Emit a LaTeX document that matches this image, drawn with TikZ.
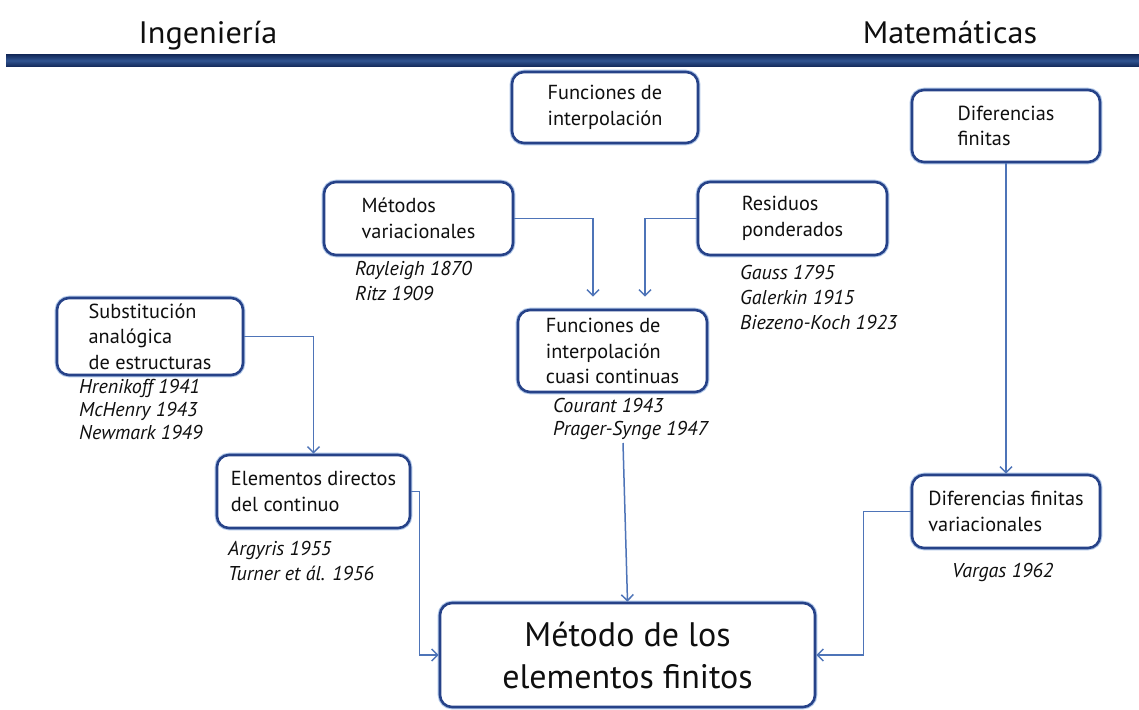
\documentclass[tikz,border=0pt]{standalone}
\usepackage{fontspec}
\usepackage{graphicx}
\setmainfont{PT Sans}
\usetikzlibrary{arrows.meta}
\definecolor{boxblue}{RGB}{38,66,136}
\definecolor{glow}{RGB}{175,198,232}
\definecolor{linkblue}{RGB}{78,116,184}
\definecolor{ink}{RGB}{15,15,15}
\definecolor{barA}{RGB}{22,45,95}
\definecolor{barB}{RGB}{48,84,145}
\begin{document}
\begin{tikzpicture}[x=1pt,y=-1pt,
  box/.style={draw=boxblue, line width=2.6pt, rounded corners=12pt, fill=white,
    align=left, inner sep=0pt, text=ink, font=\fontsize{20.3}{25.5}\selectfont,
    preaction={draw=glow, line width=4.6pt}},
  link/.style={draw=linkblue, line width=1.5pt, -{Straight Barb[length=6pt,width=12pt]}},
  lab/.style={anchor=base west, inner sep=0pt, text=ink, font=\fontsize{20}{25}\selectfont\itshape},
  head/.style={anchor=base, inner sep=0pt, text=ink, font=\fontsize{31}{34}\selectfont}]
\useasboundingbox (0,0) rectangle (1139,709);
\fill[white] (0,0) rectangle (1139,709);
% header
\shade[top color=barA, bottom color=barA, middle color=barB] (6,55) rectangle (1139,66);
\node[head] (ing) at (208,44) {\scalebox{1.04}[1]{Ingeniería}};
\node[head] (mat) at (950,44) {\scalebox{1.04}[1]{Matemáticas}};
% boxes
\node[box, minimum width=186pt, minimum height=71pt] (funint) at (605,107.5) {Funciones de\\interpolación};
\node[box, minimum width=189pt, minimum height=73pt] (metvar) at (418.5,218.5) {Métodos\\variacionales};
\node[box, minimum width=189pt, minimum height=73pt] (resid) at (792.5,218.5) {Residuos\\ponderados};
\node[box, minimum width=188pt, minimum height=72pt] (diffin) at (1006,126) {Diferencias\\finitas};
\node[box, minimum width=186pt, minimum height=77pt] (subst) at (150,336.5) {Substitución\\analógica\\de estructuras};
\node[box, minimum width=189pt, minimum height=82pt] (cuasi) at (612.5,351) {Funciones de\\interpolación\\cuasi continuas};
\node[box, minimum width=193pt, minimum height=73pt] (elem) at (313.5,491.5) {Elementos directos\\del continuo};
\node[box, minimum width=188pt, minimum height=73pt] (difvar) at (1006,511.5) {Diferencias finitas\\variacionales};
\node[box, minimum width=375pt, minimum height=104pt, align=center, font=\fontsize{34}{42}\selectfont] (metodo) at (627.5,655) {Método de los\\elementos finitos};
% labels
\node[lab] (ray) at (355,275) {\begin{tabular}[t]{@{}l@{}}Rayleigh 1870\\Ritz 1909\end{tabular}};
\node[lab] (gau) at (740,279) {\begin{tabular}[t]{@{}l@{}}Gauss 1795\\Galerkin 1915\\Biezeno-Koch 1923\end{tabular}};
\node[lab, font=\fontsize{20}{23}\selectfont\itshape] (hre) at (79,393) {\begin{tabular}[t]{@{}l@{}}Hrenikoff 1941\\McHenry 1943\\Newmark 1949\end{tabular}};
\node[lab, font=\fontsize{20}{23}\selectfont\itshape] (cou) at (553,412) {\begin{tabular}[t]{@{}l@{}}Courant 1943\\Prager-Synge 1947\end{tabular}};
\node[lab] (arg) at (228,555) {\begin{tabular}[t]{@{}l@{}}Argyris 1955\\Turner et ál. 1956\end{tabular}};
\node[lab] (var) at (952,577) {Vargas 1962};
% connectors
\coordinate (cuasiout) at (623,443);
\draw[link] (subst.east) -| (elem.north);
\draw[link] (metvar.east) -| ([xshift=-19.5pt,yshift=12pt]cuasi.north);
\draw[link] (resid.west) -| ([xshift=32.5pt,yshift=12pt]cuasi.north);
\draw[link] (cuasiout) -- (metodo.north);
\draw[link] (elem.east) -| ([xshift=-19pt]metodo.west) -- (metodo.west);
\draw[link] (difvar.west) -| ([xshift=47pt]metodo.east) -- (metodo.east);
\draw[link] (diffin.south) -- (difvar.north);
\end{tikzpicture}
\end{document}
